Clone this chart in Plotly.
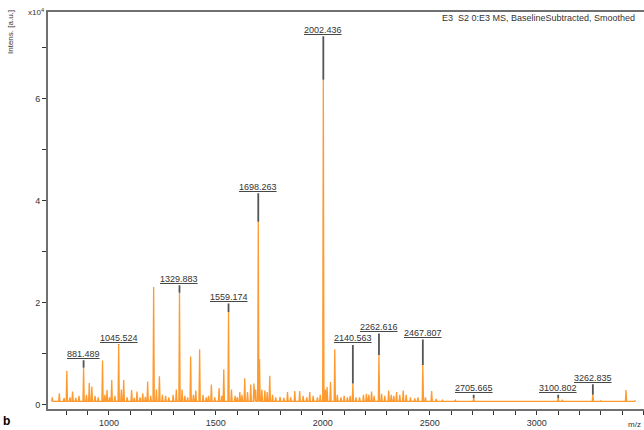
import plotly.graph_objects as go

# ---- data (intensity in units of 1e4 a.u.) ----
labeled_mz = [881.489, 1045.524, 1329.883, 1559.174, 1698.263, 2002.436,
              2140.563, 2262.616, 2467.807, 2705.665, 3100.802, 3262.835]
labeled_int = [0.73, 1.18, 2.20, 1.82, 3.59, 6.37,
               0.42, 0.98, 0.78, 0.13, 0.13, 0.20]

other_mz = [735, 768, 790, 803, 818, 830, 845, 860, 895, 908, 920, 935, 950, 970, 981,
            991, 1003, 1013, 1028, 1058, 1069, 1085, 1106, 1118, 1131, 1145, 1158,
            1170, 1181, 1195, 1209, 1222, 1236, 1250,
            1265, 1280, 1300, 1315, 1342, 1355, 1368, 1382, 1395, 1406, 1424, 1440,
            1455, 1466, 1479, 1495, 1515, 1528, 1537, 1573, 1590, 1600, 1612, 1622,
            1635, 1648, 1663, 1678, 1686, 1704, 1715, 1729, 1740, 1752, 1765, 1780,
            1800, 1818, 1835, 1850, 1869, 1892, 1908, 1925, 1939, 1955, 1975, 1988,
            2012, 2020, 2036, 2056, 2068, 2085, 2100, 2115, 2128, 2155, 2172, 2190,
            2204, 2215, 2228, 2240, 2275, 2290, 2308, 2320, 2332, 2345, 2360, 2376,
            2390, 2410, 2430, 2445, 2480, 2509, 2530,
            2560, 2620, 2750, 2850, 2950, 3120, 3300, 3418, 3460]
other_int = [0.15, 0.23, 0.14, 0.67, 0.15, 0.26, 0.14, 0.18, 0.20, 0.43, 0.36, 0.18, 0.15, 0.87, 0.20,
             0.29, 0.15, 0.49, 0.18, 0.30, 0.49, 0.15, 0.29, 0.14, 0.26, 0.15, 0.23,
             0.16, 0.46, 0.18, 2.31, 0.30, 0.56, 0.20,
             0.18, 0.15, 0.20, 0.30, 0.30, 0.18, 0.15, 0.95, 0.20, 0.28, 1.09, 0.20,
             0.15, 0.18, 0.40, 0.15, 0.33, 0.18, 0.70, 0.30, 0.18, 0.15, 0.25, 0.20,
             0.52, 0.25, 0.40, 0.42, 0.30, 0.90, 0.30, 0.28, 0.25, 0.57, 0.20, 0.15,
             0.16, 0.14, 0.25, 0.15, 0.27, 0.27, 0.18, 0.15, 0.25, 0.18, 0.15, 0.20,
             0.30, 0.35, 0.45, 1.09, 0.20, 0.15, 0.18, 0.15, 0.18, 0.15, 0.15, 0.20,
             0.22, 0.20, 0.26, 0.18, 0.22, 0.18, 0.28, 0.20, 0.18, 0.25, 0.20, 0.28,
             0.20, 0.15, 0.13, 0.15, 0.15, 0.27, 0.12,
             0.09, 0.09, 0.08, 0.08, 0.08, 0.09, 0.08, 0.29, 0.08]
baseline_level = 0.07

x_tick_vals = [1000, 1500, 2000, 2500, 3000]
y_tick_vals = [0, 2, 4, 6]

# label stem lengths (pixels) - styling
stem_px = [14, 7, 14, 15, 35, 50, 45, 28, 32, 10, 10, 17]

# ---- build spectrum polyline ----
peaks = sorted(zip(labeled_mz + other_mz, labeled_int + other_int))
xs, ys = [], []
half_w = 3.0
for mz, h in peaks:
    xs += [mz - half_w, mz, mz + half_w]
    ys += [baseline_level, h, baseline_level]

fig = go.Figure()
fig.add_trace(go.Scatter(x=xs, y=ys, mode="lines",
                         line=dict(color="#FF9A2E", width=1.3),
                         hoverinfo="skip", showlegend=False))

annotations = []
for mz, h, s in zip(labeled_mz, labeled_int, stem_px):
    annotations.append(dict(
        x=mz, y=h, xref="x", yref="y", ax=0, ay=-s,
        text=f"<u>{mz:.3f}</u>", showarrow=True, arrowhead=0,
        arrowwidth=1.8, arrowcolor="#555555", standoff=0, borderpad=1,
        font=dict(family="Liberation Sans, Arial", size=9, color="#333333")))

L, R, T, B, W, H = 48, 0, 12, 21, 644, 430
pw, ph = W - L - R, H - T - B
def px(xp):
    return (xp - L) / pw
def py(yp):
    return (H - B - yp) / ph

annotations += [
    dict(text="Intens. [a.u.]", xref="paper", yref="paper", x=px(11), y=py(8),
         xanchor="center", yanchor="top", textangle=-90, showarrow=False,
         font=dict(family="Liberation Sans, Arial", size=8, color="#333")),
    dict(text="x10<sup>4</sup>", xref="paper", yref="paper", x=px(36), y=py(12),
         xanchor="center", yanchor="middle", showarrow=False,
         font=dict(family="Liberation Sans, Arial", size=8, color="#333")),
    dict(text="E3  S2 0:E3 MS, BaselineSubtracted, Smoothed", xref="paper", yref="paper",
         x=px(440), y=py(18), xanchor="left", yanchor="middle", showarrow=False,
         font=dict(family="Liberation Sans, Arial", size=9, color="#333")),
    dict(text="m/z", xref="paper", yref="paper", x=px(626), y=py(424),
         xanchor="left", yanchor="middle", showarrow=False,
         font=dict(family="Liberation Sans, Arial", size=8, color="#333")),
    dict(text="<b>b</b>", xref="paper", yref="paper", x=px(1), y=py(421),
         xanchor="left", yanchor="middle", showarrow=False,
         font=dict(family="Liberation Sans, Arial", size=12, color="#000")),
]

fig.update_layout(
    width=W, height=H, margin=dict(l=L, r=R, t=T, b=B, pad=0),
    paper_bgcolor="white", plot_bgcolor="white",
    annotations=annotations,
    xaxis=dict(range=[715, 3502], showgrid=False, zeroline=False,
               showline=True, linecolor="#707070", linewidth=2, mirror=True,
               tickmode="array", tickvals=x_tick_vals,
               ticks="outside", ticklen=4, tickcolor="#333", tickwidth=1.2,
               minor=dict(tickmode="linear", tick0=0, dtick=100, ticks="outside",
                          ticklen=4, tickcolor="#333", tickwidth=1.2),
               tickfont=dict(family="Liberation Sans, Arial", size=9, color="#333")),
    yaxis=dict(range=[-0.08, 7.7], showgrid=False, zeroline=False,
               showline=True, linecolor="#707070", linewidth=2,
               tickmode="array", tickvals=y_tick_vals,
               ticks="outside", ticklen=4, tickcolor="#333", tickwidth=1.2,
               minor=dict(tickmode="linear", tick0=0, dtick=1, ticks="outside",
                          ticklen=4, tickcolor="#333", tickwidth=1.2),
               tickfont=dict(family="Liberation Sans, Arial", size=9, color="#333")),
)

fig.write_html("out.html")
